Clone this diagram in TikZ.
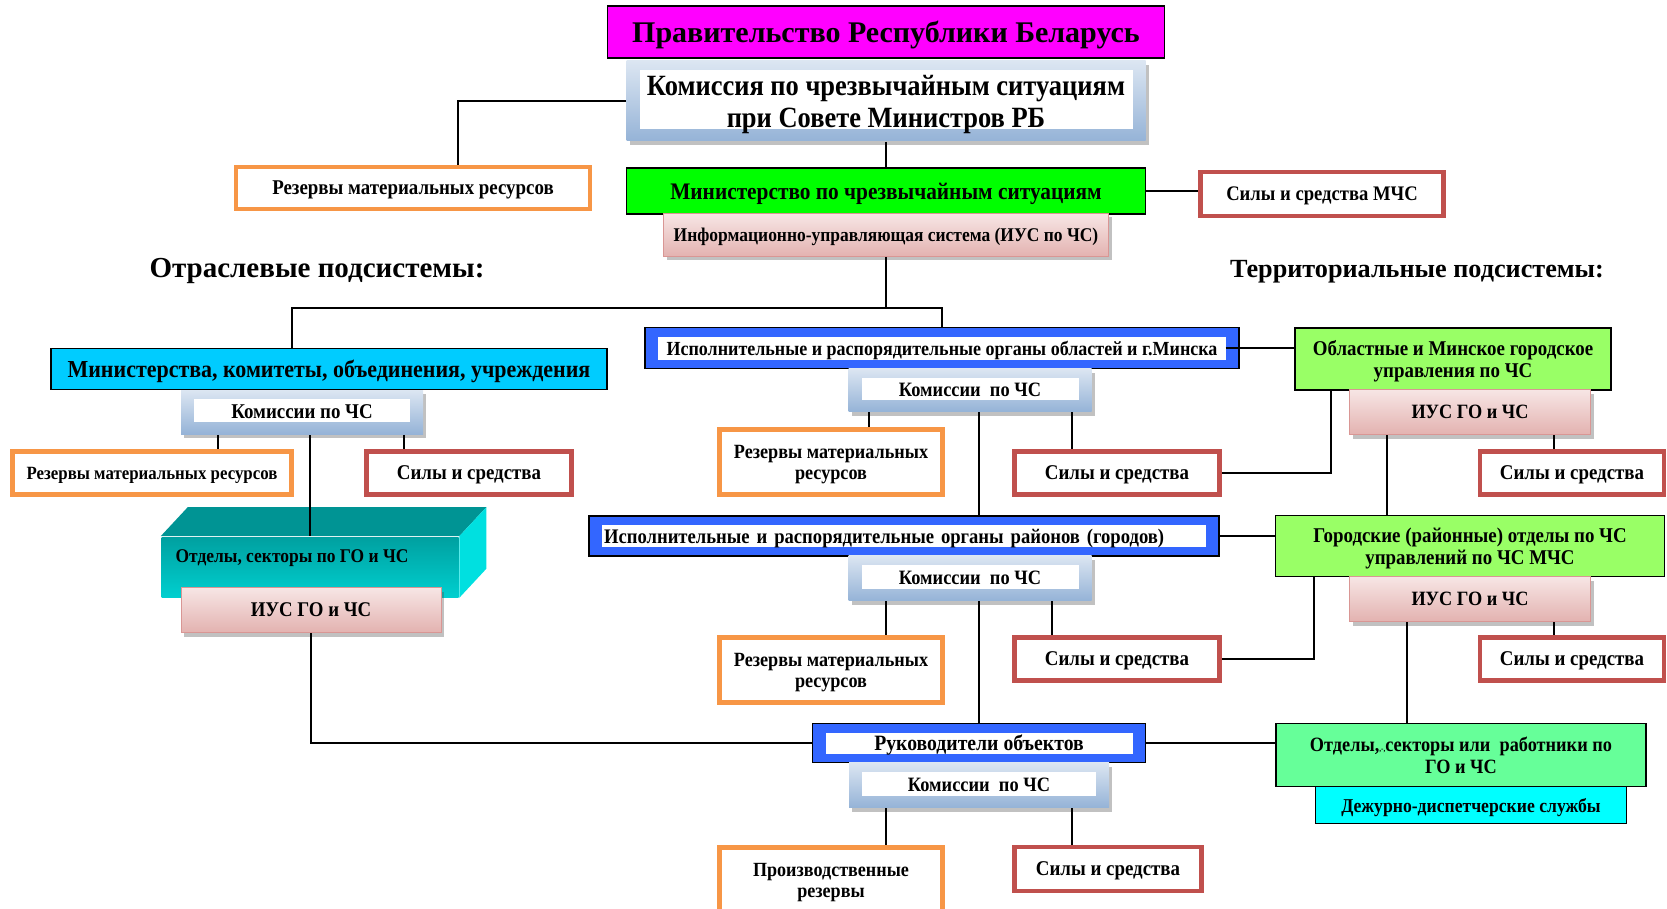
\documentclass[tikz,border=0pt]{standalone}
\usepackage{fontspec}
\setmainfont[FakeStretch=0.9]{Liberation Serif}
\newfontfamily\wide{Liberation Serif}
\usetikzlibrary{shadows}
\definecolor{govmag}{HTML}{FF00FF}
\definecolor{mchsgreen}{HTML}{00FF00}
\definecolor{mincyan}{HTML}{00CCFF}
\definecolor{oblgreen}{HTML}{99FF66}
\definecolor{otdgreen}{HTML}{66FF99}
\definecolor{dezhcyan}{HTML}{00FFFF}
\definecolor{bblue}{HTML}{3366FF}
\definecolor{orng}{HTML}{F79646}
\definecolor{rd}{HTML}{C0504D}
\definecolor{kfTop}{HTML}{DCE6F2}
\definecolor{kfBot}{HTML}{95B3D7}
\definecolor{iusTop}{HTML}{F7E6E5}
\definecolor{iusBot}{HTML}{E3B2B0}
\definecolor{iusLine}{HTML}{D99694}
\definecolor{tealA}{HTML}{00A0A0}
\definecolor{tealB}{HTML}{00CFCF}
\definecolor{tealtop}{HTML}{009494}
\definecolor{tealside}{HTML}{00E0E0}
\newcommand{\sz}[2]{\fontsize{#1}{#2}\selectfont}

\begin{document}
\begin{tikzpicture}
[x=1pt,y=-1pt,line width=1.6pt,
blk/.style={inner sep=0pt,align=center,text depth=0pt,font=\bfseries\sz{21}{22}},
wh/.style 2 args={minimum width=#1pt,minimum height=#2pt},
plain/.style={blk,draw=black,line width=1.3pt},
shd/.style={drop shadow={shadow xshift=3pt,shadow yshift=-4pt,opacity=0.35,fill=black!70}},
kframe/.style={blk,shd,top color=kfTop,bottom color=kfBot,
  path picture={\fill[white] ([shift={(13pt,-9pt)}]path picture bounding box.north west) rectangle ([shift={(-13pt,12pt)}]path picture bounding box.south east);}},
blu/.style={blk,fill=bblue,draw=black,line width=1.4pt,
  path picture={\fill[white] ([shift={(13pt,-9pt)}]path picture bounding box.north west) rectangle ([shift={(-13pt,9pt)}]path picture bounding box.south east);}},
ius/.style={blk,shd,top color=iusTop,bottom color=iusBot,draw=iusLine,line width=1pt},
orng/.style={blk,draw=orng,fill=white,line width=4.5pt},
rd/.style={blk,draw=rd,fill=white,line width=4.5pt},
]
\useasboundingbox (0,0) rectangle (1667,909);

\node (gov) at (886,32) [plain,fill=govmag,wh={557}{52},font=\wide\bfseries\sz{30}{32}] {Правительство Республики Беларусь};
\node (kom) at (886,101) [kframe,wh={519}{80},font=\bfseries\sz{29.4}{32}] {Комиссия по чрезвычайным ситуациям\\при Совете Министров РБ};
\node (rez0) at (413,188) [orng,wh={354}{42}] {Резервы материальных ресурсов};
\node (mchs) at (886,191) [plain,fill=mchsgreen,wh={519}{46},font=\bfseries\sz{23.7}{25}] {Министерство по чрезвычайным ситуациям};
\node (iusT) at (886,235) [ius,wh={445}{43},font=\bfseries\sz{19.4}{21}] {Информационно-управляющая система (ИУС по ЧС)};
\node (silM) at (1322,194) [rd,wh={243}{44},font=\bfseries\sz{20.7}{22}] {Силы и средства МЧС};
\node (hL) at (317,271) [font=\wide\bfseries\sz{29}{31}] {Отраслевые подсистемы:};
\node (hR) at (1417,272) [font=\wide\bfseries\sz{26.2}{28}] {Территориальные подсистемы:};

\node (min) at (329,369) [plain,fill=mincyan,wh={556}{41},font=\bfseries\sz{24.4}{26}] {Министерства, комитеты, объединения, учреждения};
\node (komL) at (302,412) [kframe,wh={242}{44}] {Комиссии по ЧС};
\node (rezL) at (152,473) [orng,wh={279}{43},font=\bfseries\sz{18.7}{20}] {Резервы материальных ресурсов};
\node (silL) at (469,473) [rd,wh={205}{43}] {Силы и средства};
\node (otdL) at (310,567) [blk,top color=tealA,bottom color=tealB,wh={297}{60},
  label={[font=\bfseries\sz{19.4}{21},xshift=-18pt,yshift=9pt]center:Отделы, секторы по ГО и ЧС}] {};
\fill[tealtop] (otdL.north west) -- ++(27,-29) -- ([shift={(27pt,29pt)}]otdL.north east) -- (otdL.north east) -- cycle;
\fill[tealside] (otdL.north east) -- ++(27,-29) -- ([shift={(27pt,29pt)}]otdL.south east) -- (otdL.south east) -- cycle;
\node (iusL) at (311,610) [ius,wh={260}{45},font=\bfseries\sz{20.9}{22}] {ИУС ГО и ЧС};

\node (ispo) at (942,348) [blu,wh={594}{41},font=\bfseries\sz{20}{21}] {Исполнительные и распорядительные органы областей и г.Минска};
\node (komM1) at (970,390) [kframe,wh={243}{43},font=\bfseries\sz{20.4}{22}] {Комиссии\ \ по ЧС};
\node (rezM1) at (831,462) [orng,wh={223}{65},font=\bfseries\sz{20.2}{21}] {Резервы материальных\\ресурсов};
\node (silM1) at (1117,473) [rd,wh={205}{43}] {Силы и средства};
\node (ispr) at (904,536) [blu,wh={630}{40},text width=600pt,align=left,font=\bfseries\sz{20.7}{22}] {Исполнительные и распорядительные органы районов (городов)};
\node (komM2) at (970,578) [kframe,wh={243}{45},font=\bfseries\sz{20.4}{22}] {Комиссии\ \ по ЧС};
\node (rezM2) at (831,670) [orng,wh={223}{65},font=\bfseries\sz{20.2}{21}] {Резервы материальных\\ресурсов};
\node (silM2) at (1117,659) [rd,wh={205}{43}] {Силы и средства};
\node (ruk) at (979,743) [blu,wh={333}{39},font=\bfseries\sz{21.9}{23}] {Руководители объектов};
\node (komB) at (979,785) [kframe,wh={260}{45},font=\bfseries\sz{20.4}{22}] {Комиссии\ \ по ЧС};
\node (proizv) at (831,880) [orng,wh={223}{65},font=\bfseries\sz{20.1}{21}] {Производственные\\резервы};
\node (silB) at (1108,869) [rd,wh={187}{44}] {Силы и средства};

\node (obl) at (1453,359) [plain,fill=oblgreen,wh={316}{62}] {Областные и Минское городское\\управления по ЧС};
\node (iusR1) at (1470,412) [ius,wh={241}{45},font=\bfseries\sz{20.3}{22}] {ИУС ГО и ЧС};
\node (silR1) at (1572,473) [rd,wh={184}{43}] {Силы и средства};
\node (gor) at (1470,546) [plain,fill=oblgreen,wh={389}{61}] {Городские (районные) отделы по ЧС\\управлений по ЧС МЧС};
\node (iusR2) at (1470,599) [ius,wh={241}{45},font=\bfseries\sz{20.3}{22}] {ИУС ГО и ЧС};
\node (silR2) at (1572,659) [rd,wh={184}{43}] {Силы и средства};
\node (otdR) at (1461,755) [plain,fill=otdgreen,wh={370}{63},font=\bfseries\sz{20.3}{22}] {Отделы,{\sz{8}{8},-,}секторы или\ \ работники по\\ГО и ЧС};
\node (dezh) at (1471,805) [plain,fill=dezhcyan,wh={311}{37},font=\bfseries\sz{19.6}{21}] {Дежурно-диспетчерские службы};

\coordinate (bus) at (886,308);
\draw (kom.west) -| ([xshift=45pt]rez0.north);
\draw (kom.south) -- (mchs.north);
\draw (mchs.east) -- (mchs.east -| silM.west);
\draw (iusT.south) -- (bus);
\draw ([xshift=-37pt]min.north) |- (bus) -| (ispo.north);
\draw ([xshift=-84pt]komL.south) -- ([xshift=-84pt]komL.south |- rezL.north);
\draw ([xshift=102pt]komL.south) -- ([xshift=102pt]komL.south |- silL.north);
\draw (otdL.north) -- (otdL.north |- komL.south);
\draw (iusL.south) |- (ruk.west);
\draw ([xshift=-101pt]komM1.south) -- ([xshift=-101pt]komM1.south |- rezM1.north);
\draw ([xshift=102pt]komM1.south) -- ([xshift=102pt]komM1.south |- silM1.north);
\draw ([xshift=9pt]komM1.south) -- ([xshift=9pt]komM1.south |- ispr.north);
\draw ([xshift=-84pt]komM2.south) -- ([xshift=-84pt]komM2.south |- rezM2.north);
\draw ([xshift=82pt]komM2.south) -- ([xshift=82pt]komM2.south |- silM2.north);
\draw (ruk.north) -- (ruk.north |- komM2.south);
\draw ([xshift=-93pt]komB.south) -- ([xshift=-93pt]komB.south |- proizv.north);
\draw ([xshift=93pt]komB.south) -- ([xshift=93pt]komB.south |- silB.north);
\draw ([xshift=-14pt]ispo.east) -- (ispo.east -| obl.west);
\draw ([xshift=-122pt]obl.south) |- (silM1.east);
\draw ([xshift=-83pt]iusR1.south) -- ([xshift=-83pt]iusR1.south |- gor.north);
\draw ([xshift=84pt]iusR1.south) -- ([xshift=84pt]iusR1.south |- silR1.north);
\draw (ispr.east) -- (ispr.east -| gor.west);
\draw ([xshift=-156pt]gor.south) |- (silM2.east);
\draw ([xshift=-63pt]iusR2.south) -- ([xshift=-63pt]iusR2.south |- otdR.north);
\draw ([xshift=84pt]iusR2.south) -- ([xshift=84pt]iusR2.south |- silR2.north);
\draw (ruk.east) -- (ruk.east -| otdR.west);

\end{tikzpicture}
\end{document}
